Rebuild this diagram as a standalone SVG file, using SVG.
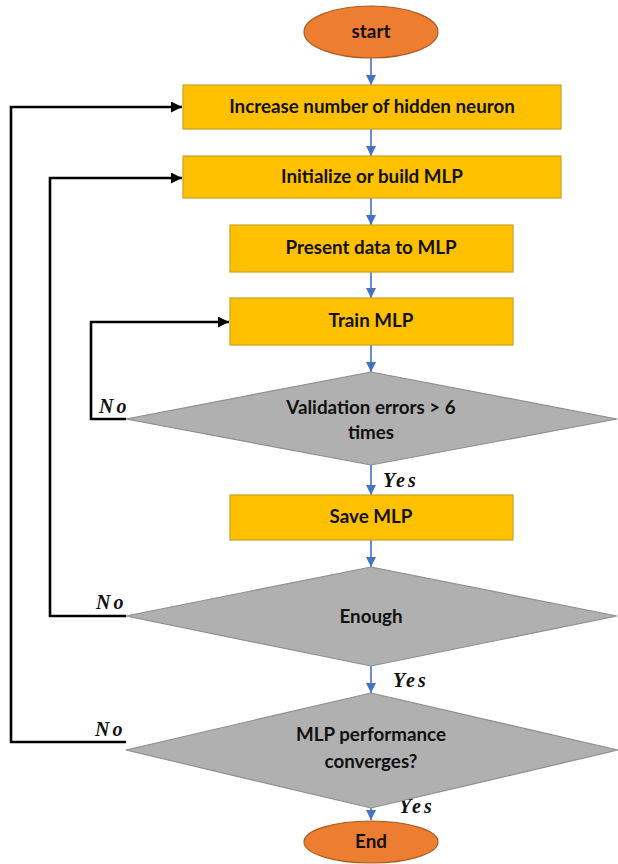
<svg xmlns="http://www.w3.org/2000/svg" width="618" height="864" viewBox="0 0 618 864">
  <defs>
    <marker id="blueHead" viewBox="0 0 10 10" refX="10" refY="5" markerWidth="10" markerHeight="10" markerUnits="userSpaceOnUse" orient="auto">
      <path d="M0,0 L10,5 L0,10 Z" fill="#4472C4"/>
    </marker>
    <marker id="blackHead" viewBox="0 0 10 10" refX="10" refY="5" markerWidth="11" markerHeight="11" markerUnits="userSpaceOnUse" orient="auto">
      <path d="M0,0 L10,5 L0,10 Z" fill="#000"/>
    </marker>
    <style>
      .term { fill: #ED7D31; stroke: #AE5A21; stroke-width: 1.2; }
      .proc { fill: #FFC000; stroke: #C9A227; stroke-width: 1.2; }
      .dec { fill: #B0B0B0; stroke: #8E8E8E; stroke-width: 1.2; }
      .lbl { font-family: Lato, "Liberation Sans", sans-serif; font-weight: 700; font-size: 18.8px; fill: #111; text-anchor: middle; }
      .yn { font-family: "Liberation Serif", serif; font-weight: 700; font-style: italic; font-size: 20px; fill: #111; letter-spacing: 3px; }
      .flow { stroke: #4472C4; stroke-width: 1.6; fill: none; marker-end: url(#blueHead); }
      .loop { stroke: #000; stroke-width: 2.6; fill: none; marker-end: url(#blackHead); }
    </style>
  </defs>

  <!-- connectors -->
  <g id="connectors">
    <line class="flow" x1="371" y1="58" x2="371" y2="85"/>
    <line class="flow" x1="371" y1="129" x2="371" y2="156"/>
    <line class="flow" x1="371" y1="198" x2="371" y2="225"/>
    <line class="flow" x1="371" y1="272" x2="371" y2="298"/>
    <line class="flow" x1="371" y1="345" x2="371" y2="372"/>
    <line class="flow" x1="371" y1="465" x2="371" y2="495"/>
    <line class="flow" x1="371" y1="540" x2="371" y2="567"/>
    <line class="flow" x1="371" y1="666" x2="371" y2="693"/>
    <line class="flow" x1="371" y1="808" x2="371" y2="820"/>

    <polyline class="loop" points="126,419 91,419 91,322 229,322"/>
    <polyline class="loop" points="126,616 50,616 50,178 182,178"/>
    <polyline class="loop" points="126,742 11,742 11,107 182,107"/>

    <text class="yn" x="99" y="413">No</text>
    <text class="yn" x="96" y="609">No</text>
    <text class="yn" x="95" y="736">No</text>
    <text class="yn" x="383" y="487">Yes</text>
    <text class="yn" x="393" y="687">Yes</text>
    <text class="yn" x="399" y="813">Yes</text>
  </g>

  <g id="start">
    <ellipse class="term" cx="371" cy="32" rx="67" ry="26"/>
    <text class="lbl" x="371" y="38">start</text>
  </g>

  <g id="increase">
    <rect class="proc" x="183" y="85" width="378" height="44"/>
    <text class="lbl" x="372" y="113">Increase number of hidden neuron</text>
  </g>

  <g id="init">
    <rect class="proc" x="183" y="156" width="378" height="42"/>
    <text class="lbl" x="372" y="183">Initialize or build MLP</text>
  </g>

  <g id="present">
    <rect class="proc" x="230" y="225" width="283" height="47"/>
    <text class="lbl" x="371" y="254">Present data to MLP</text>
  </g>

  <g id="train">
    <rect class="proc" x="230" y="298" width="283" height="47"/>
    <text class="lbl" x="371" y="327">Train MLP</text>
  </g>

  <g id="validation">
    <polygon class="dec" points="371,372 617,419 371,465 126,419"/>
    <text class="lbl" x="371" y="414">Validation errors &gt; 6</text>
    <text class="lbl" x="371" y="439">times</text>
  </g>

  <g id="save">
    <rect class="proc" x="230" y="495" width="283" height="45"/>
    <text class="lbl" x="371" y="523">Save MLP</text>
  </g>

  <g id="enough">
    <polygon class="dec" points="371,567 617,616 371,666 126,616"/>
    <text class="lbl" x="371" y="623">Enough</text>
  </g>

  <g id="converge">
    <polygon class="dec" points="371,693 618,750 371,808 126,750"/>
    <text class="lbl" x="371" y="741">MLP performance</text>
    <text class="lbl" x="371" y="768">converges?</text>
  </g>

  <g id="end">
    <ellipse class="term" cx="371" cy="842" rx="67" ry="21"/>
    <text class="lbl" x="371" y="848">End</text>
  </g>
</svg>
